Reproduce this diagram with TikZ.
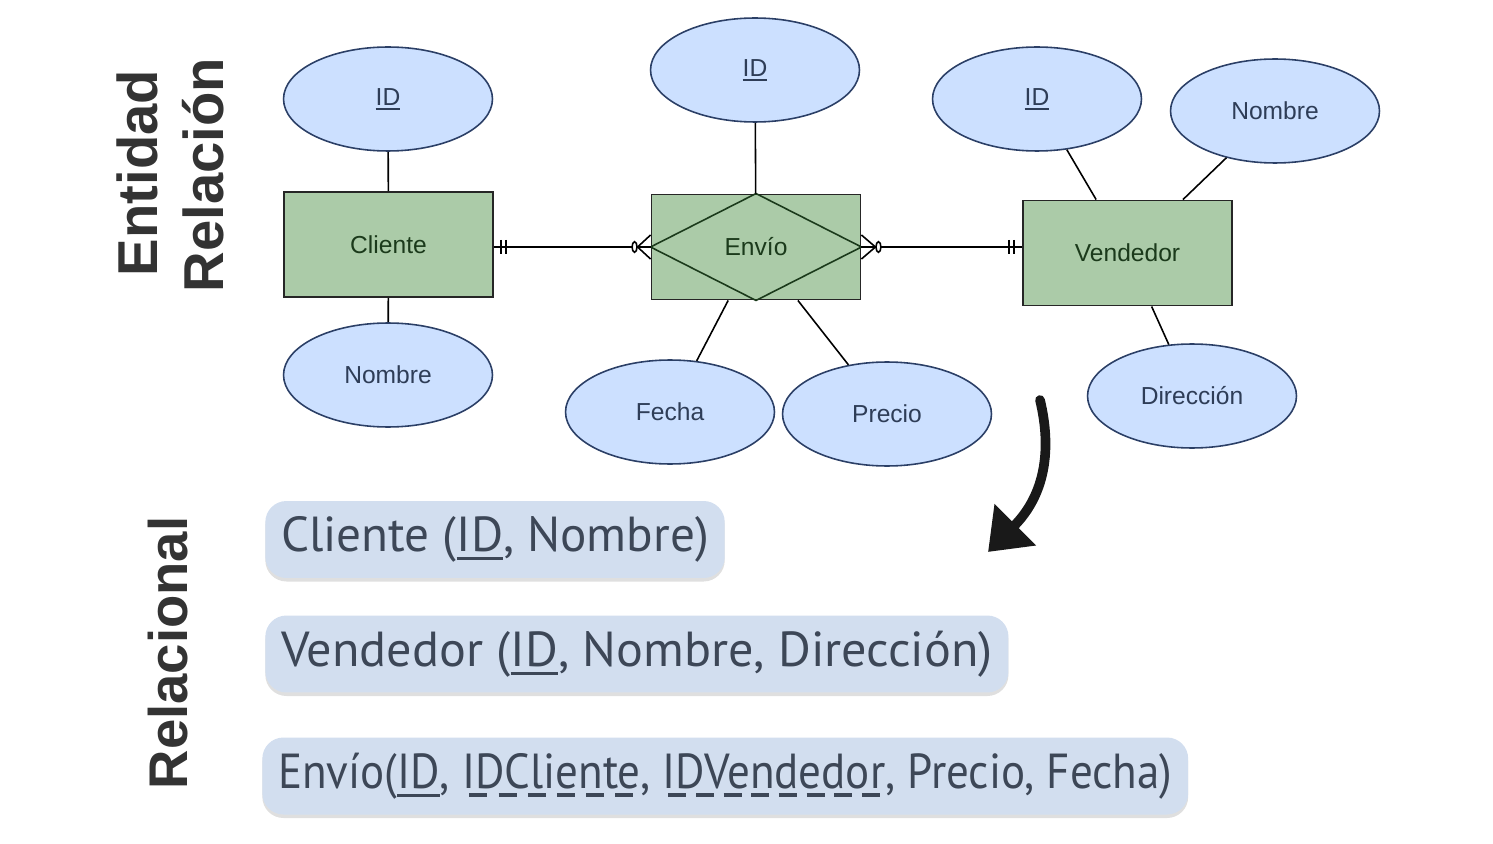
\documentclass[tikz,border=0pt]{standalone}
\usepackage{fontspec}
\setmainfont{Liberation Sans}
\newfontfamily\relfont{PT Sans}
\usetikzlibrary{arrows.meta, calc, shapes.geometric, shadows}

\newsavebox\ulbox
\newcommand{\solidul}[1]{\sbox\ulbox{#1}\leavevmode\rlap{\lower 0.17em\hbox{\vrule width \wd\ulbox height 0.06em depth 0pt}}\usebox\ulbox}
\newcommand{\dashul}[1]{\sbox\ulbox{#1}\leavevmode\rlap{\lower 0.17em\hbox to \wd\ulbox{\xleaders\hbox to 0.58em{\hss\vrule width 0.4em height 0.065em depth 0pt\hss}\hfill}}\usebox\ulbox}

\definecolor{entfill}{HTML}{ABCBA8}
\definecolor{enttext}{HTML}{1B3A1B}
\definecolor{attfill}{HTML}{CCE0FF}
\definecolor{attdraw}{HTML}{2B3F66}
\definecolor{atttext}{HTML}{2E3D57}
\definecolor{relfill}{HTML}{D2DEEF}
\definecolor{reltext}{HTML}{3D4757}
\definecolor{titletext}{HTML}{333333}

\begin{document}
\begin{tikzpicture}[
  x=0.02cm, y=-0.02cm,
  entity/.style={draw=black!85, fill=entfill, line width=1.1pt, minimum width=4.18cm,
    minimum height=2.1cm, text=enttext, font=\fontsize{14}{16}\selectfont},
  attr/.style={ellipse, draw=attdraw, fill=attfill, line width=0.9pt, minimum width=4.18cm,
    minimum height=2.08cm, text=atttext, font=\fontsize{14}{16}\selectfont},
  conn/.style={black, line width=0.9pt},
  title/.style={rotate=90, text=titletext, font=\bfseries\fontsize{32}{34}\selectfont},
  rel/.style={anchor=west, fill=relfill, rounded corners=12pt, minimum height=1.54cm,
    inner xsep=9pt, text=reltext, font=\relfont\fontsize{28}{30}\selectfont,
    drop shadow={shadow xshift=0pt, shadow yshift=-2pt, opacity=0.25}}
]
  \useasboundingbox (0,0) rectangle (1493,844);

  % titles
  \node[title] (tent) at (137,173) {Entidad};
  \node[title] (trel) at (203,175) {Relación};
  \node[title, font=\bfseries\fontsize{31}{33}\selectfont] (trl) at (168,653) {Relacional};

  % entities
  \node[entity] (c) at (388.5,244.5) {Cliente};
  \node[entity] (e) at (756,247) {};
  \draw[enttext, line width=0.9pt] (e.north) -- (e.east) -- (e.south) -- (e.west) -- cycle;
  \node[text=enttext, font=\fontsize{14}{16}\selectfont] (elbl) at (e) {Envío};
  \node[entity] (v) at (1127.5,253) {Vendedor};

  % attributes
  \node[attr] (cid) at (388,99) {\solidul{ID}};
  \node[attr] (cnom) at (388,375) {Nombre};
  \node[attr] (eid) at (755,70) {\solidul{ID}};
  \node[attr] (efec) at (670,412) {Fecha};
  \node[attr] (epre) at (887,414) {Precio};
  \node[attr] (vid) at (1037,99) {\solidul{ID}};
  \node[attr] (vnom) at (1275,111) {Nombre};
  \node[attr] (vdir) at (1192,396) {Dirección};

  \draw[conn] (cid) -- (c);
  \draw[conn] (cnom) -- (c);
  \draw[conn] (eid) -- (e);
  \draw[conn] (efec) -- (e);
  \draw[conn] (epre) -- (e);
  \draw[conn] (vid) -- (v);
  \draw[conn] (vnom) -- (v);
  \draw[conn] (vdir) -- (v);

  % Cliente ||----o< Envio
  \draw[conn] (e.west -| c.east) -- (e.west);
  \draw[conn] ($(e.west -| c.east)+(7,-7)$) -- +(0,14);
  \draw[conn] ($(e.west -| c.east)+(12,-7)$) -- +(0,14);
  \draw[conn] ($(e.west)+(0,-12)$) -- ($(e.west)+(-13,0)$) -- ($(e.west)+(0,12)$);
  \draw[conn, fill=white] ($(e.west)+(-16,0)$) ellipse [x radius=1.4pt, y radius=3pt];

  % Envio >o----|| Vendedor
  \draw[conn] (e.east) -- (e.east -| v.west);
  \draw[conn] ($(e.east)+(0,-12)$) -- ($(e.east)+(14,0)$) -- ($(e.east)+(0,12)$);
  \draw[conn, fill=white] ($(e.east)+(17,0)$) ellipse [x radius=1.4pt, y radius=3pt];
  \draw[conn] ($(e.east -| v.west)+(-8,-7)$) -- +(0,14);
  \draw[conn] ($(e.east -| v.west)+(-13,-7)$) -- +(0,14);

  % hand drawn arrow
  \coordinate (a1) at (1040,400);
  \coordinate (a2) at (988,552);
  \draw[black!90, line width=5.5pt, line cap=round, -{Triangle[length=22pt, width=32pt]}]
    (a1) .. controls (1052,450) and (1045,495) .. (a2);

  % relational model
  \node[rel] (r1) at (265,539.5) {Cliente (\solidul{ID}, Nombre)};
  \node[rel] (r2) at (265,654) {\scalebox{1.02}[1]{Vendedor (\solidul{ID}, Nombre, Dirección)}};
  \node[rel] (r3) at (262,776) {\scalebox{0.915}[1]{Envío(\solidul{ID}, \dashul{IDCliente}, \dashul{IDVendedor}, Precio, Fecha)}};
\end{tikzpicture}
\end{document}
